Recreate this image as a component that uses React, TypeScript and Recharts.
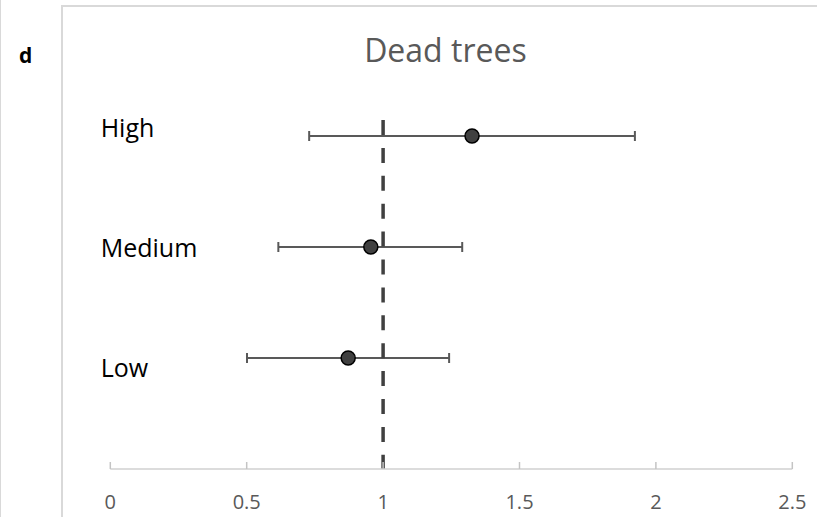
import {
  ScatterChart, Scatter, XAxis, YAxis, ErrorBar, ReferenceLine,
} from 'recharts'

// Odds ratio with 95% CI per stratum
const categories = ['Low', 'Medium', 'High']
const rowPos = [1, 2, 3]
const estimates = [0.872, 0.955, 1.326]
const lowerCI = [0.501, 0.616, 0.729]
const upperCI = [1.242, 1.290, 1.923]
const xTicks = [0, 0.5, 1, 1.5, 2, 2.5]
const refValue = 1
const refTop = 3.144

const FONT = '"Open Sans", "Liberation Sans", sans-serif'
const W = 817
const H = 517

const rows = categories.map((label, i) => ({
  label,
  y: rowPos[i],
  est: estimates[i],
  err: [estimates[i] - lowerCI[i], upperCI[i] - estimates[i]],
}))

// text labels sit on their own axis, anchored at x = 0
const labelRows = categories.map((label, i) => ({ label, y: rowPos[i], est: 0 }))

const XTick = ({ x, y, payload }: { x: number; y: number; payload: { value: number } }) => (
  <g>
    <line x1={x} x2={x} y1={y - 7} y2={y} stroke="#c4c4c4" strokeWidth={1.5} />
    <text x={x} y={y + 39.5} textAnchor="middle" fill="#595959" fontSize={20} fontFamily={FONT}>
      {payload.value}
    </text>
  </g>
)

const RowLabel = (props: { cx?: number; cy?: number; payload?: { label: string } }) => (
  <text
    x={(props.cx ?? 0) - 9.6} y={(props.cy ?? 0) + 9}
    textAnchor="start" fill="#000" fontSize={25} fontFamily={FONT}
  >
    {props.payload?.label}
  </text>
)

const Dot = ({ cx, cy }: { cx?: number; cy?: number }) => (
  <circle cx={cx} cy={cy} r={7} fill="#404040" stroke="#000" strokeWidth={1.5} />
)

export default function App() {
  return (
    <div style={{ position: 'absolute', left: 0, top: 0, width: W, height: H, background: '#fff' }}>
      <svg width={W} height={H} style={{ position: 'absolute', left: 0, top: 0 }}>
        <line x1={0.5} x2={0.5} y1={0} y2={H} stroke="#d9d9d9" strokeWidth={1} />
        <line x1={62} x2={W} y1={6} y2={6} stroke="#d9d9d9" strokeWidth={2} />
        <line x1={62} x2={62} y1={5} y2={H} stroke="#d9d9d9" strokeWidth={2} />
        <text x={19} y={62.5} fontSize={21} fontWeight="bold" fill="#000" fontFamily={FONT}>d</text>
        <text x={445.4} y={61.7} textAnchor="middle" fontSize={32} fill="#595959" fontFamily={FONT}>
          Dead trees
        </text>
      </svg>
      <div style={{ position: 'absolute', left: 0, top: 0 }}>
        <ScatterChart
          width={W} height={H}
          margin={{ top: 25, right: 24.7, left: 110.3, bottom: 0 }}
        >
          <XAxis
            type="number" dataKey="est"
            domain={[0, 2.5]} ticks={xTicks}
            height={48}
            axisLine={{ stroke: '#d0d0d0', strokeWidth: 1.5 }}
            tickLine={false} tickSize={0} tickMargin={0}
            tick={XTick}
            interval={0}
          />
          <YAxis yAxisId="rows" type="number" dataKey="y" domain={[0, 4]} hide width={0} />
          <YAxis
            yAxisId="lab" type="number" dataKey="y"
            domain={[0.156, 3.856]} allowDataOverflow hide width={0}
          />
          <Scatter
            yAxisId="lab"
            data={labelRows}
            shape={RowLabel}
            isAnimationActive={false}
          />
          <Scatter
            yAxisId="rows"
            data={rows}
            shape={Dot}
            isAnimationActive={false}
          >
            <ErrorBar
              dataKey="err" direction="x"
              width={5} stroke="#595959" strokeWidth={2}
              isAnimationActive={false}
            />
          </Scatter>
          <ReferenceLine
            yAxisId="rows"
            segment={[{ x: refValue, y: refTop }, { x: refValue, y: 0 }]}
            stroke="#404040" strokeWidth={3.5} strokeDasharray="15 12.9"
          />
        </ScatterChart>
      </div>
    </div>
  )
}
